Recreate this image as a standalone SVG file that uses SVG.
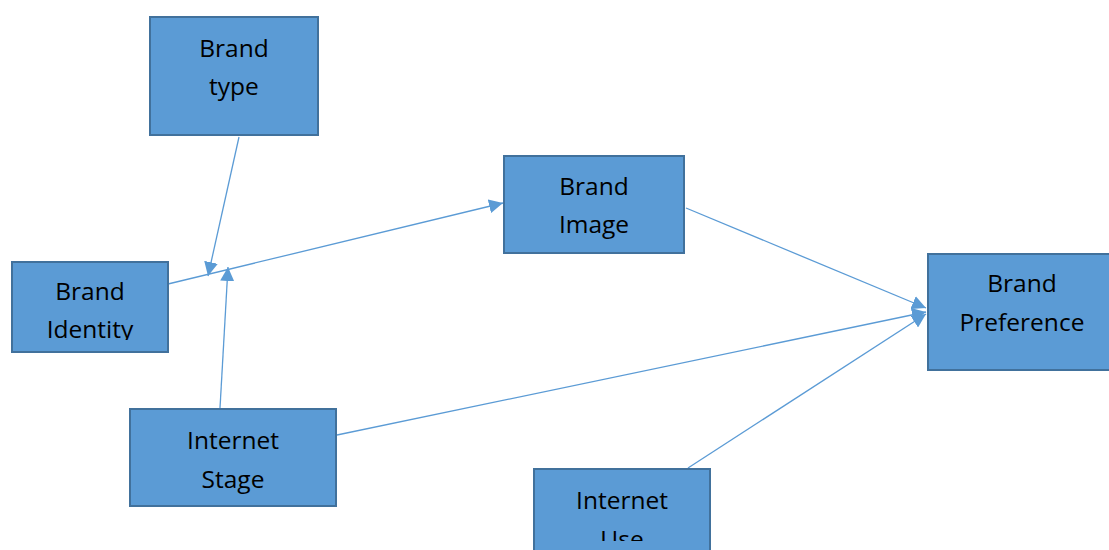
<svg xmlns="http://www.w3.org/2000/svg" width="1109" height="550" viewBox="0 0 1109 550">
  <style>
    .box { fill: #5B9BD5; stroke: #41719C; stroke-width: 2; }
    .lbl { font-family: "Open Sans", "Liberation Sans", sans-serif; font-size: 24.5px; fill: #000; text-anchor: middle; }
    .edge { stroke: #5B9BD5; stroke-width: 1.3; fill: none; marker-end: url(#arrow); }
  </style>
  <defs>
    <marker id="arrow" viewBox="0 0 10 10" refX="10" refY="5" markerWidth="14" markerHeight="14" markerUnits="userSpaceOnUse" orient="auto">
      <path d="M0,0 L10,5 L0,10 z" fill="#5B9BD5"/>
    </marker>
    <clipPath id="clipIdentity"><rect x="12" y="262" width="156" height="78"/></clipPath>
    <clipPath id="clipUse"><rect x="534" y="469" width="176" height="72"/></clipPath>
  </defs>
  <rect width="1109" height="550" fill="#fff"/>

  <g id="connectors">
    <line class="edge" x1="239" y1="137" x2="208" y2="276"/>
    <line class="edge" x1="168" y1="284" x2="503" y2="203"/>
    <line class="edge" x1="220" y1="408" x2="228" y2="267"/>
    <line class="edge" x1="686" y1="208" x2="926" y2="308"/>
    <line class="edge" x1="337" y1="435" x2="926" y2="312"/>
    <line class="edge" x1="688" y1="468" x2="926" y2="314"/>
  </g>

  <g id="brand-type">
    <rect class="box" x="150" y="17" width="168" height="118"/>
    <text class="lbl" x="234" y="57">Brand</text>
    <text class="lbl" x="234" y="95">type</text>
  </g>

  <g id="brand-image">
    <rect class="box" x="504" y="156" width="180" height="97"/>
    <text class="lbl" x="594" y="195">Brand</text>
    <text class="lbl" x="594" y="233">Image</text>
  </g>

  <g id="brand-identity">
    <rect class="box" x="12" y="262" width="156" height="90"/>
    <g clip-path="url(#clipIdentity)">
      <text class="lbl" x="90" y="300">Brand</text>
      <text class="lbl" x="90" y="338">Identity</text>
    </g>
  </g>

  <g id="internet-stage">
    <rect class="box" x="130" y="409" width="206" height="97"/>
    <text class="lbl" x="233" y="449">Internet</text>
    <text class="lbl" x="233" y="488">Stage</text>
  </g>

  <g id="brand-preference">
    <rect class="box" x="928" y="254" width="185" height="116"/>
    <text class="lbl" x="1022" y="292">Brand</text>
    <text class="lbl" x="1022" y="331">Preference</text>
  </g>

  <g id="internet-use">
    <rect class="box" x="534" y="469" width="176" height="90"/>
    <g clip-path="url(#clipUse)">
      <text class="lbl" x="622" y="509">Internet</text>
      <text class="lbl" x="622" y="548">Use</text>
    </g>
  </g>
</svg>
